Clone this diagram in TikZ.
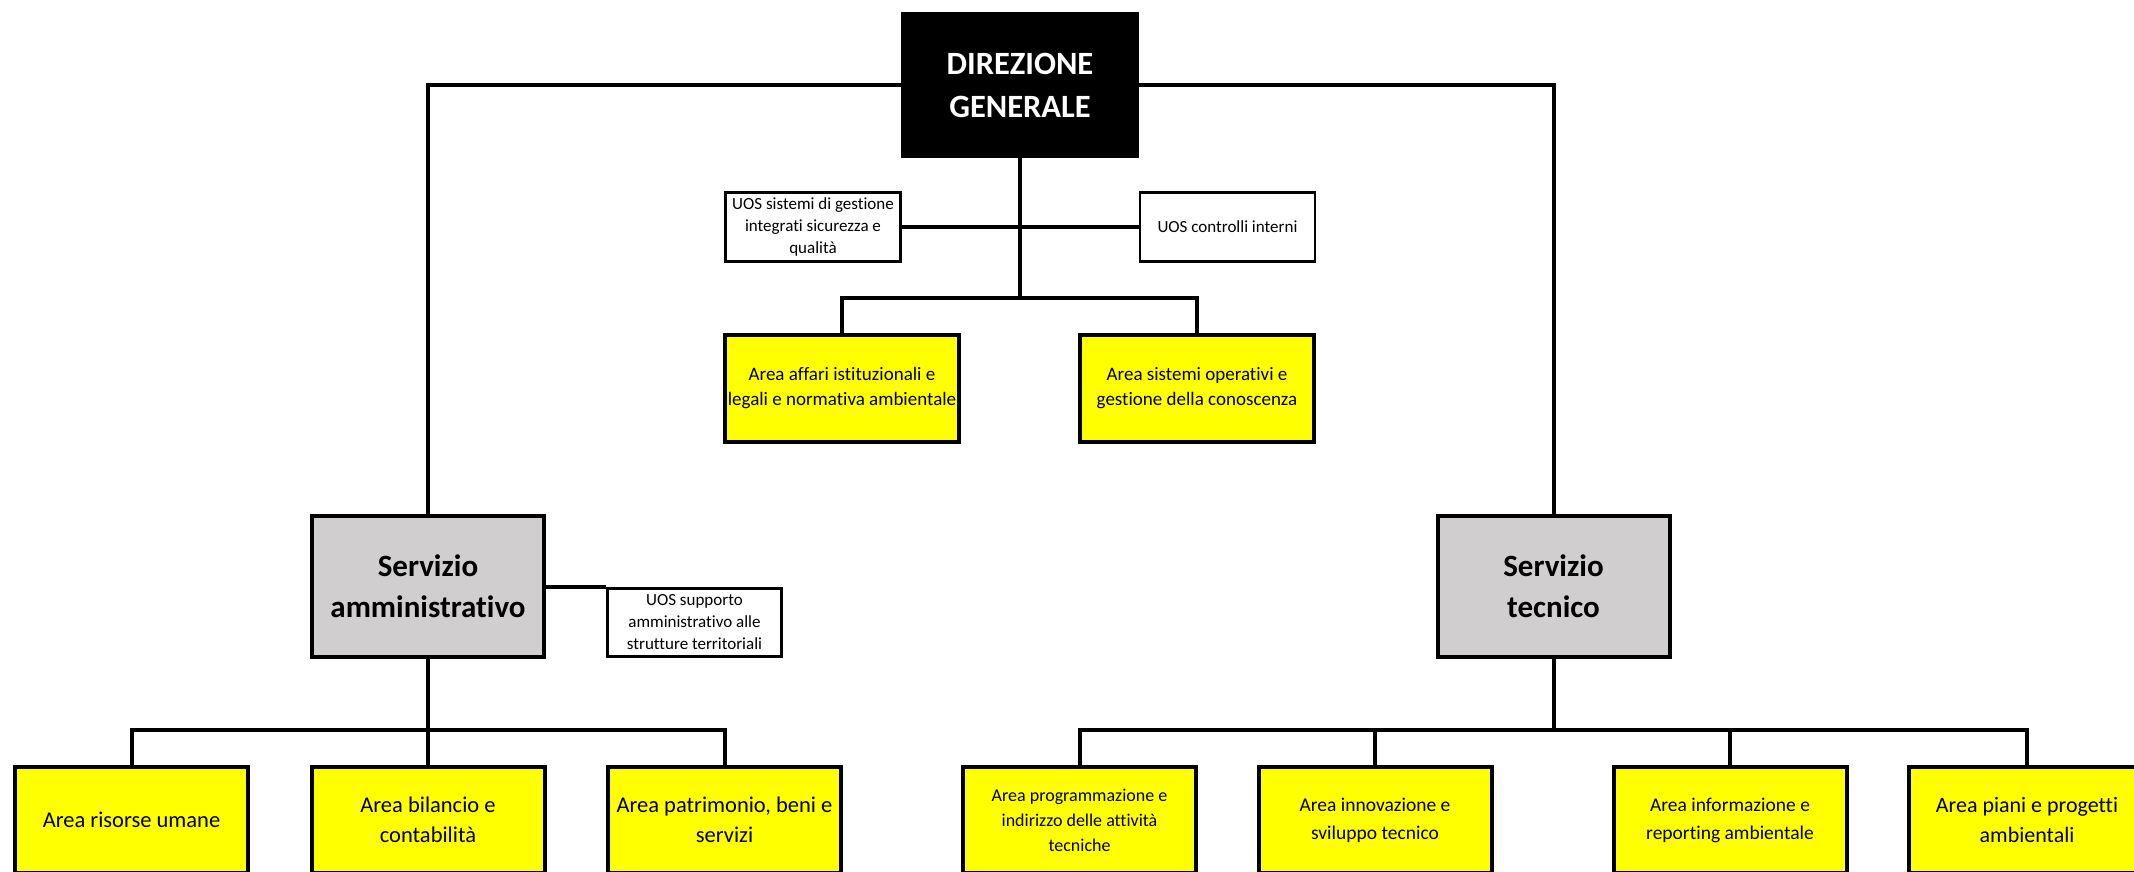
\documentclass[tikz,border=0pt]{standalone}
\usepackage{fontspec}
\setmainfont{Carlito}[Ligatures={NoCommon}]
\definecolor{servgray}{RGB}{208,206,206}
\definecolor{areayellow}{RGB}{255,255,0}
\begin{document}
\begin{tikzpicture}[x=1pt,y=-1pt,
  conn/.style={line width=4pt},
  box/.style={draw, line width=4pt, align=center, inner sep=0pt},
  yel/.style={box, fill=areayellow},
  serv/.style={box, fill=servgray, minimum width=232pt, minimum height=141pt,
    font=\fontsize{31}{41}\selectfont\bfseries},
  uos/.style={draw, line width=2.5pt, fill=white, align=center, inner sep=0pt,
    minimum width=175pt, minimum height=69pt, font=\fontsize{17}{22}\selectfont},
  midarea/.style={yel, minimum width=234pt, minimum height=107pt, font=\fontsize{19}{25}\selectfont},
  botarea/.style={yel, minimum width=233pt, minimum height=106pt}
]
\useasboundingbox (0,0) rectangle (2134,871);
\clip (0,0) rectangle (2134,871);
\fill[white] (0,0) rectangle (2134,871);

% nodes
\node[fill=black, text=white, align=center, inner sep=0pt, minimum width=238pt, minimum height=146pt,
  font=\fontsize{32.5}{43}\selectfont\bfseries] (dg) at (1020,85) {DIREZIONE\\GENERALE};
\node[uos] (uos1) at (813,227) {UOS sistemi di gestione\\integrati sicurezza e\\qualità};
\node[uos] (uos2) at (1227.5,227) {UOS controlli interni};
\node[midarea] (aa) at (842,388.5) {Area affari istituzionali e\\legali e normativa ambientale};
\node[midarea] (aso) at (1197,388.5) {Area sistemi operativi e\\gestione della conoscenza};
\node[serv] (sa) at (428,586.5) {Servizio\\amministrativo};
\node[serv] (st) at (1553.5,586.5) {Servizio\\tecnico};
\node[uos, minimum width=174pt, minimum height=68pt] (uossup) at (694.5,622.5)
  {UOS supporto\\amministrativo alle\\strutture territoriali};

\node[botarea, font=\fontsize{22.5}{30}\selectfont] (b1) at (131.5,820) {Area risorse umane};
\node[botarea, font=\fontsize{22.5}{30}\selectfont] (b2) at (428,820) {Area bilancio e\\contabilità};
\node[botarea, font=\fontsize{22.5}{30}\selectfont] (b3) at (724.5,820) {Area patrimonio, beni e\\servizi};
\node[botarea, font=\fontsize{18}{25}\selectfont] (b4) at (1079.5,820) {Area programmazione e\\indirizzo delle attività\\tecniche};
\node[botarea, font=\fontsize{19.5}{28}\selectfont] (b5) at (1375,820) {Area innovazione e\\sviluppo tecnico};
\node[botarea, font=\fontsize{19.5}{28}\selectfont] (b6) at (1730,820) {Area informazione e\\reporting ambientale};
\node[botarea, minimum width=236pt, font=\fontsize{22}{30}\selectfont] (b7) at (2027,820) {Area piani e progetti\\ambientali};

% junctions
\coordinate (j1) at (1020,298);
\coordinate (j2) at (428,730);
\coordinate (j3) at (1553.5,730);

% connectors
\draw[conn] (dg.west) -| (sa.north);
\draw[conn] (dg.east) -| (st.north);
\draw[conn] (dg.south) -- (j1);
\draw[conn] (uos1.east) -- (uos2.west);
\draw[conn] (aa.north) |- (j1) -| (aso.north);
\draw[conn] (sa.east) -- (sa.east -| uossup.west);
\draw[conn] (sa.south) -- (j2);
\draw[conn] (b1.north) |- (j2) -| (b3.north);
\draw[conn] (b2.north) -- (b2.north |- j2);
\draw[conn] (st.south) -- (j3);
\draw[conn] (b4.north) |- (j3) -| (b7.north);
\draw[conn] (b5.north) -- (b5.north |- j3);
\draw[conn] (b6.north) -- (b6.north |- j3);
\end{tikzpicture}
\end{document}
